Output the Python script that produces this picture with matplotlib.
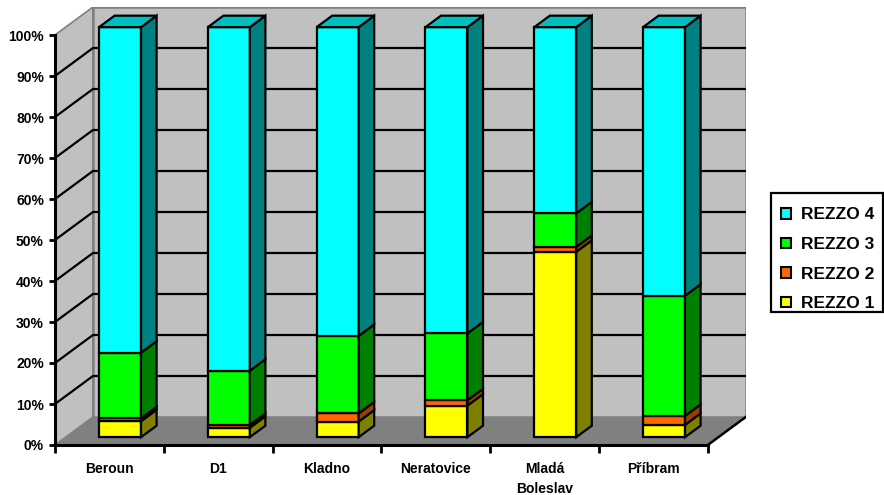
import matplotlib
matplotlib.use("Agg")
import matplotlib.pyplot as plt
from matplotlib.patches import Polygon, Patch, Rectangle
from matplotlib.lines import Line2D
from matplotlib.colors import to_rgb

plt.rcParams["font.family"] = ["Liberation Sans", "DejaVu Sans"]
plt.rcParams["font.weight"] = "bold"

# Data: share of emissions (%) by REZZO category
districts = ["Beroun", "D1", "Kladno", "Neratovice", "Mladá\nBoleslav", "Příbram"]
rezzo1 = [3.9, 2.3, 3.8, 7.7, 45.2, 3.0]
rezzo2 = [0.7, 0.7, 2.0, 1.3, 1.2, 2.2]
rezzo3 = [16.0, 13.2, 18.9, 16.3, 8.2, 29.3]
rezzo4 = [79.4, 83.8, 75.3, 74.7, 45.4, 65.5]
series_names = ["REZZO 1", "REZZO 2", "REZZO 3", "REZZO 4"]
series_colors = ["#FFFF00", "#FF6600", "#00FF00", "#00FFFF"]
y_ticks = list(range(0, 101, 10))
y_labels = [f"{t}%" for t in y_ticks]

# Oblique 3D look: depth vector expressed in data units (categories, percent)
DX, DY = 0.349, 6.83
F0, F1 = 0.28, 0.69          # front / back depth of the columns
HALF_W = 0.193               # half column width in category units


def shade(c, f):
    r, g, b = to_rgb(c)
    return (r * f, g * f, b * f)


def pt(x, y, d):
    return (x + d * DX, y + d * DY)


W, H = 884, 495
fig = plt.figure(figsize=(W / 100, H / 100), dpi=100)
ax = fig.add_axes([55 / W, 50 / H, (6 + DX) * 108.8 / W, (100 + DY) * 4.1 / H])
ax.set_xlim(0, 6 + DX)
ax.set_ylim(0, 100 + DY)
ax.patch.set_visible(False)

n = len(districts)

# walls and floor
wall = "#C0C0C0"
ax.add_patch(Polygon([pt(0, 0, 0), pt(0, 0, 1), pt(0, 100, 1), pt(0, 100, 0)],
                     closed=True, fc=wall, ec="#808080", lw=1.2, zorder=0.5))
ax.add_patch(Polygon([pt(0, 0, 1), pt(n, 0, 1), pt(n, 100, 1), pt(0, 100, 1)],
                     closed=True, fc=wall, ec="#808080", lw=1.8, zorder=0.5))
ax.add_patch(Polygon([pt(0, 0, 0), pt(n, 0, 0), pt(n, 0, 1), pt(0, 0, 1)],
                     closed=True, fc="#808080", ec="none", zorder=0.6))
ax.add_line(Line2D(*zip(pt(n, 0, 0), pt(n, 0, 1)), color="black", lw=1.8, zorder=0.7))

# gridlines on side wall and back wall
for t in y_ticks[1:-1]:
    a, b, c = pt(0, t, 0), pt(0, t, 1), pt(n, t, 1)
    ax.add_line(Line2D([a[0], b[0], c[0]], [a[1], b[1], c[1]],
                       color="black", lw=1.6, zorder=0.8))

# stacked 100% columns
data = [rezzo1, rezzo2, rezzo3, rezzo4]
for i in range(n):
    total = sum(s[i] for s in data)
    xc = i + 0.5
    x0, x1 = xc - HALF_W, xc + HALF_W
    base = 0.0
    for k, s in enumerate(data):
        v = s[i] / total * 100
        top = base + v
        col = series_colors[k]
        z = 1 + i * 0.01
        front = [pt(x0, base, F0), pt(x1, base, F0), pt(x1, top, F0), pt(x0, top, F0)]
        side = [pt(x1, base, F0), pt(x1, base, F1), pt(x1, top, F1), pt(x1, top, F0)]
        ax.add_patch(Polygon(front, closed=True, fc=col, ec="black", lw=1.6,
                             joinstyle="miter", zorder=z))
        ax.add_patch(Polygon(side, closed=True, fc=shade(col, 0.5 if k != 1 else 0.6),
                             ec="black", lw=1.6, joinstyle="miter", zorder=z))
        if k == len(data) - 1:
            lid = [pt(x0, top, F0), pt(x1, top, F0), pt(x1, top, F1), pt(x0, top, F1)]
            ax.add_patch(Polygon(lid, closed=True, fc=shade(col, 0.75), ec="black",
                                 lw=1.6, joinstyle="miter", zorder=z))
        base = top

# axes, ticks and labels
for side_name in ("top", "right"):
    ax.spines[side_name].set_visible(False)
ax.spines["left"].set_bounds(0, 100)
ax.spines["bottom"].set_bounds(0, n)
for side_name in ("left", "bottom"):
    ax.spines[side_name].set_linewidth(2.2)
    ax.spines[side_name].set_zorder(3)

ax.set_yticks(y_ticks)
ax.set_yticklabels(y_labels, fontsize=10, fontweight="bold")
ax.tick_params(axis="y", direction="out", length=4, width=2, pad=4)

ax.set_xticks(range(n + 1))
ax.set_xticklabels([""] * (n + 1))
ax.set_xticks([i + 0.5 for i in range(n)], minor=True)
ax.set_xticklabels(districts, minor=True, fontsize=10, fontweight="bold")
ax.tick_params(axis="x", which="major", direction="out", length=6, width=2)
ax.tick_params(axis="x", which="minor", length=0, pad=12)
for lbl in ax.get_xticklabels(minor=True):
    lbl.set_linespacing(1.55)

# legend, top series first, inside a plain black box
handles = [Patch(fc=series_colors[k], ec="black", lw=1.5) for k in range(3, -1, -1)]
labels = [series_names[k] for k in range(3, -1, -1)]
fig.legend(handles, labels, loc="upper left",
           bbox_to_anchor=(771 / W, 1 - 197 / H),
           prop={"size": 12.5, "weight": "bold"},
           frameon=False,
           handlelength=0.55, handleheight=0.55, handletextpad=0.6,
           labelspacing=0.84, borderpad=0.6, borderaxespad=0)
fig.patches.append(Rectangle((771 / W, 1 - 312 / H), 112 / W, 119 / H,
                             transform=fig.transFigure, fill=False,
                             ec="black", lw=1.6))

fig.savefig("out.png", dpi=100, facecolor="white")
